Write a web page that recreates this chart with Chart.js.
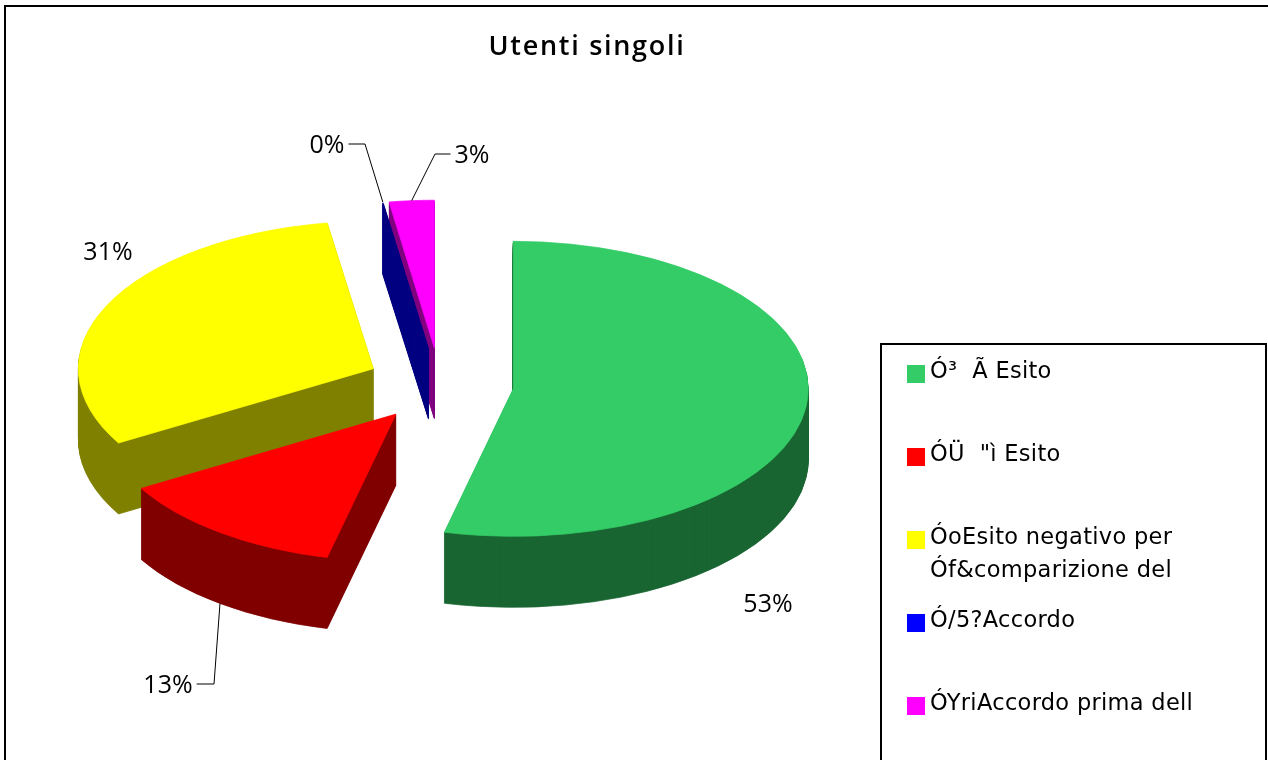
<!DOCTYPE html>
<html>
<head>
<meta charset="utf-8">
<title>Utenti singoli</title>
<script src="https://cdn.jsdelivr.net/npm/chart.js@4"></script>
<style>
  html, body { margin: 0; background: #fff; overflow: hidden; }
  canvas { display: block; }
</style>
</head>
<body>
<canvas id="pie" width="1268" height="760"></canvas>
<script>
const chartTitle = 'Utenti singoli';
const categories = [['Ó³  Ã Esito'], ['ÓÜ  "ì Esito'], ['ÓoEsito negativo per', 'Óf&comparizione del'], ['Ó/5?Accordo'], ['ÓYriAccordo prima dell']];
const values = [53.75, 12.85, 30.9, 0.05, 2.45];
const percentLabels = ['53%', '13%', '31%', '0%', '3%'];
const topColors = ['#33CC66', '#FF0000', '#FFFF00', '#0000FF', '#FF00FF'];
const wallColors = ['#1A6633', '#800000', '#808000', '#000080', '#800080'];

// look of the fake 3d pie
const radius = 295;
const squash = 0.5;
const depth = 71;
const explode = 0.25;
const paintOrder = [4, 3, 2, 0, 1];

// label centre, which side the leader leaves from (0 = no leader)
const labelSpots = [
    { x: 768, y: 605, side: 0 },
    { x: 168, y: 686, side: 1, elbow: 214, drop: true },
    { x: 108, y: 253, side: 0 },
    { x: 327, y: 146, side: 1, elbow: 365 },
    { x: 472, y: 156, side: -1, elbow: 435 }
];

const labelFont = '400 25px "Open Sans"';
const legendFont = '22.5px "DejaVu Sans"';
const titleFont = '600 27px "Open Sans"';

function midAngle(arc) {
    return (arc.startAngle + arc.endAngle) / 2;
}

function drawSlice(ctx, arc, color, drop) {
    const mid = midAngle(arc);
    const shade = Object.create(arc);
    shade.options = Object.assign({}, arc.options, { backgroundColor: color, borderColor: color, borderWidth: 1 });
    ctx.save();
    ctx.translate(arc.x, arc.y + drop);
    ctx.scale(1, squash);
    ctx.translate(-arc.x, -arc.y);
    ctx.translate(Math.cos(mid) * radius * explode, Math.sin(mid) * radius * explode);
    shade.draw(ctx);
    ctx.restore();
}

const pie3d = {
    id: 'pie3d',
    beforeDatasetDraw(chart, args) {
        const arcs = args.meta.data;
        paintOrder.forEach(i => {
            for (let d = depth; d > 0; d--) {
                drawSlice(chart.ctx, arcs[i], wallColors[i], d);
            }
            // the 0% slice shows only its wall
            if (values[i] >= 0.1) drawSlice(chart.ctx, arcs[i], topColors[i], 0);
        });
        return false;
    },
    afterDraw(chart) {
        const ctx = chart.ctx;
        const arcs = chart.getDatasetMeta(0).data;

        // outer frame
        ctx.strokeStyle = '#000';
        ctx.lineWidth = 2;
        ctx.strokeRect(5, 6, 1300, 800);

        // title
        ctx.fillStyle = '#000';
        ctx.font = titleFont;
        ctx.textAlign = 'center';
        ctx.textBaseline = 'alphabetic';
        ctx.letterSpacing = '1.7px';
        ctx.fillText(chartTitle, 587, 55);
        ctx.letterSpacing = '0px';

        // percent labels and leaders
        ctx.font = labelFont;
        ctx.textBaseline = 'middle';
        labelSpots.forEach((spot, i) => {
            ctx.fillStyle = '#000';
            ctx.fillText(percentLabels[i], spot.x, spot.y);
            if (!spot.side) return;
            const arc = arcs[i];
            const mid = midAngle(arc);
            const endX = arc.x + Math.cos(mid) * radius * (1 + explode);
            const endY = arc.y + Math.sin(mid) * radius * (1 + explode) * squash + (spot.drop ? depth : 0);
            const lineY = spot.y - 2;
            const half = ctx.measureText(percentLabels[i]).width / 2 + 4;
            ctx.strokeStyle = '#000';
            ctx.lineWidth = 1;
            ctx.beginPath();
            ctx.moveTo(spot.x + spot.side * half, lineY);
            ctx.lineTo(spot.elbow, lineY);
            ctx.lineTo(endX, endY);
            ctx.stroke();
        });

        // legend box, runs off the bottom like the original
        ctx.strokeStyle = '#000';
        ctx.lineWidth = 2;
        ctx.fillStyle = '#fff';
        ctx.fillRect(881, 344, 385, 500);
        ctx.strokeRect(881, 344, 385, 500);
        ctx.font = legendFont;
        ctx.letterSpacing = '0.3px';
        ctx.textAlign = 'left';
        ctx.textBaseline = 'alphabetic';
        categories.forEach((lines, i) => {
            const top = 365 + Math.round(i * 83);
            ctx.fillStyle = topColors[i];
            ctx.fillRect(907, top, 18, 18);
            ctx.fillStyle = '#000';
            lines.forEach((line, k) => ctx.fillText(line, 930, top + 13 + k * 33));
        });
        ctx.letterSpacing = '0px';
    }
};

new Chart(document.getElementById('pie'), {
    type: 'pie',
    data: {
        labels: categories.map(c => c.join(' ')),
        datasets: [{
            data: values,
            backgroundColor: topColors,
            borderWidth: 0,
            offset: 0
        }]
    },
    options: {
        responsive: false,
        animation: false,
        events: [],
        radius: radius,
        layout: { padding: { right: 388, top: 9 } },
        plugins: {
            legend: { display: false },
            title: { display: false },
            tooltip: { enabled: false }
        }
    },
    plugins: [pie3d]
});
</script>
</body>
</html>
